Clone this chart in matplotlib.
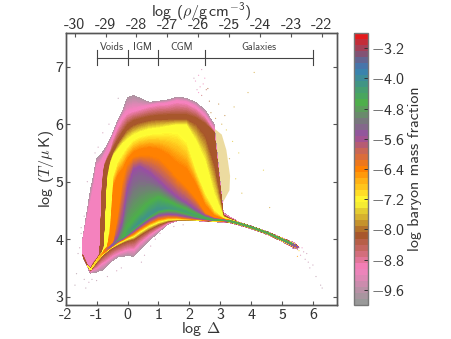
#!/bin/env python3
import matplotlib
matplotlib.use("Agg")
import matplotlib.pyplot as plt
import numpy as np
from matplotlib.colors import LinearSegmentedColormap

plt.rcParams["font.family"] = "cmss10"
plt.rcParams["axes.unicode_minus"] = False
plt.rcParams["axes.formatter.use_mathtext"] = True
plt.rcParams["mathtext.fontset"] = "custom"
plt.rcParams["mathtext.rm"] = "cmss10"
plt.rcParams["mathtext.it"] = "cmmi10"
plt.rcParams["mathtext.cal"] = "cmsy10"
plt.rcParams["mathtext.bf"] = "cmb10"
plt.rcParams["mathtext.tt"] = "cmtt10"

TEXT = "#333333"
EDGE = "#555555"

# columns of log Delta, every row below is log T of one colour contour in that column
delta = [-1.45, -1.3, -1.2, -1.1, -1.0, -0.9, -0.82, -0.75, -0.65, -0.55, -0.45, -0.3, -0.15, 0, 0.2, 0.4,
         0.7, 1.0, 1.3, 1.6, 1.9, 2.2, 2.5, 2.8, 3.1, 3.3, 3.6, 4.0, 4.5, 5.0, 5.4, 5.55]

edge_lo = [3.70, 3.52, 3.41, 3.42, 3.43, 3.45, 3.46, 3.49, 3.55, 3.60, 3.64, 3.70, 3.70, 3.72, 3.70, 3.82,
           3.98, 4.12, 4.26, 4.32, 4.32, 4.32, 4.31, 4.30, 4.295, 4.285, 4.245, 4.18, 4.085, 3.96, 3.84, 3.85]
pink_lo = [3.72, 3.54, 3.44, 3.48, 3.50, 3.55, 3.58, 3.60, 3.64, 3.68, 3.72, 3.76, 3.79, 3.82, 3.82, 3.94,
           4.07, 4.18, 4.28, 4.325, 4.325, 4.325, 4.315, 4.305, 4.30, 4.29, 4.25, 4.185, 4.09, 3.965, 3.85, 3.85]
brown_lo = [3.72, 3.54, 3.46, 3.53, 3.60, 3.66, 3.71, 3.745, 3.79, 3.83, 3.86, 3.90, 3.94, 3.97, 4.00, 4.07,
            4.17, 4.25, 4.31, 4.33, 4.33, 4.33, 4.32, 4.31, 4.305, 4.295, 4.255, 4.19, 4.095, 3.97, 3.86, 3.85]
yellow_lo = [3.72, 3.54, 3.465, 3.54, 3.62, 3.675, 3.725, 3.76, 3.80, 3.845, 3.88, 3.93, 3.97, 4.01, 4.05, 4.13,
             4.23, 4.30, 4.34, 4.345, 4.34, 4.335, 4.325, 4.315, 4.31, 4.30, 4.26, 4.195, 4.10, 3.975, 3.865, 3.85]
orange_lo = [3.72, 3.54, 3.47, 3.545, 3.625, 3.685, 3.73, 3.77, 3.815, 3.855, 3.895, 3.95, 3.99, 4.04, 4.10, 4.18,
             4.28, 4.35, 4.38, 4.38, 4.36, 4.345, 4.33, 4.32, 4.315, 4.305, 4.265, 4.20, 4.105, 3.98, 3.87, 3.85]
purple_lo = [3.72, 3.54, 3.47, 3.55, 3.63, 3.69, 3.735, 3.775, 3.825, 3.865, 3.905, 3.97, 4.01, 4.07, 4.15, 4.23,
             4.34, 4.42, 4.44, 4.43, 4.40, 4.37, 4.345, 4.325, 4.32, 4.31, 4.27, 4.205, 4.11, 3.985, 3.875, 3.85]
ridge = [3.72, 3.54, 3.47, 3.55, 3.63, 3.70, 3.74, 3.78, 3.83, 3.87, 3.91, 3.98, 4.03, 4.10, 4.20, 4.29,
         4.42, 4.52, 4.54, 4.52, 4.47, 4.41, 4.36, 4.335, 4.325, 4.315, 4.275, 4.21, 4.115, 3.995, 3.90, 3.86]
green_hi = [3.72, 3.54, 3.47, 3.55, 3.63, 3.705, 3.745, 3.785, 3.835, 3.875, 3.915, 3.99, 4.06, 4.20, 4.32, 4.45,
            4.62, 4.72, 4.66, 4.58, 4.52, 4.44, 4.375, 4.34, 4.33, 4.32, 4.28, 4.212, 4.118, 4.002, 3.905, 3.86]
purple_hi = [3.72, 3.54, 3.47, 3.55, 3.63, 3.71, 3.75, 3.79, 3.84, 3.88, 3.925, 4.02, 4.30, 4.85, 5.20, 5.25,
             5.15, 5.00, 4.85, 4.72, 4.62, 4.50, 4.40, 4.35, 4.335, 4.322, 4.283, 4.214, 4.12, 4.005, 3.91, 3.86]
orange_in = [3.72, 3.54, 3.47, 3.55, 3.63, 3.71, 3.75, 3.795, 3.845, 3.89, 3.94, 4.40, 5.00, 5.30, 5.42, 5.45,
             5.45, 5.40, 5.25, 5.05, 4.90, 4.70, 4.45, 4.37, 4.34, 4.325, 4.285, 4.216, 4.122, 4.008, 3.912, 3.86]
orange_hi = [3.72, 3.54, 3.47, 3.55, 3.63, 3.71, 3.75, 3.80, 3.86, 4.10, 4.90, 5.10, 5.20, 5.37, 5.50, 5.55,
             5.58, 5.55, 5.45, 5.30, 5.20, 4.95, 4.58, 4.40, 4.35, 4.33, 4.287, 4.218, 4.124, 4.01, 3.914, 3.86]
yellow_in = [3.72, 3.54, 3.47, 3.55, 3.63, 3.71, 3.755, 3.82, 3.88, 4.30, 5.10, 5.35, 5.48, 5.60, 5.72, 5.78,
             5.82, 5.84, 5.86, 5.85, 5.70, 5.20, 4.80, 4.50, 4.36, 4.335, 4.289, 4.22, 4.126, 4.012, 3.916, 3.86]
yellow_hi = [3.72, 3.54, 3.47, 3.55, 3.63, 3.71, 3.76, 3.85, 5.00, 5.30, 5.45, 5.55, 5.65, 5.72, 5.80, 5.85,
             5.90, 5.92, 5.95, 5.98, 5.98, 5.70, 5.35, 4.75, 4.38, 4.34, 4.29, 4.222, 4.128, 4.014, 3.918, 3.86]
brown_in = [3.72, 3.54, 3.48, 3.56, 3.64, 3.72, 3.78, 3.90, 5.10, 5.36, 5.50, 5.66, 5.78, 5.90, 5.98, 6.02,
            6.06, 6.08, 6.08, 6.08, 6.08, 6.00, 5.80, 5.30, 4.40, 4.35, 4.292, 4.224, 4.13, 4.016, 3.92, 3.86]
brown_hi = [3.72, 3.54, 3.49, 3.57, 3.65, 3.73, 4.90, 5.25, 5.38, 5.48, 5.58, 5.72, 5.85, 5.97, 6.05, 6.08,
            6.12, 6.14, 6.15, 6.15, 6.15, 6.10, 6.00, 5.85, 4.42, 4.36, 4.294, 4.226, 4.132, 4.018, 3.922, 3.86]
pink_in = [3.74, 3.56, 3.50, 3.60, 3.66, 3.75, 5.00, 5.30, 5.44, 5.55, 5.74, 5.94, 6.08, 6.18, 6.22, 6.25,
           6.30, 6.33, 6.34, 6.38, 6.36, 6.28, 6.13, 5.88, 4.43, 4.37, 4.296, 4.228, 4.134, 4.02, 3.925, 3.86]
pink_hi = [3.97, 4.35, 4.60, 4.85, 5.25, 5.30, 5.36, 5.44, 5.55, 5.67, 5.80, 5.98, 6.12, 6.22, 6.25, 6.28,
           6.32, 6.35, 6.36, 6.40, 6.38, 6.30, 6.15, 5.90, 4.44, 4.38, 4.298, 4.23, 4.136, 4.022, 3.93, 3.86]
edge_hi = [4.00, 4.50, 4.85, 5.10, 5.40, 5.45, 5.50, 5.55, 5.65, 5.75, 5.88, 6.08, 6.24, 6.46, 6.50, 6.45,
           6.38, 6.40, 6.42, 6.47, 6.45, 6.38, 6.25, 6.00, 4.46, 4.39, 4.30, 4.232, 4.138, 4.025, 3.935, 3.86]

# log mass fraction on each contour, and on the ridge of each column
level_lo = [-9.8, -9.1, -8.2, -7.3, -6.4, -5.5]
level_hi = [-4.6, -5.5, -6.4, -6.4, -7.3, -7.3, -8.2, -8.2, -9.1, -9.1, -9.8]
ridge_level = [-7.3, -7.3, -7.3, -7.0, -7.0, -6.8, -6.6, -6.4, -6.0, -5.6, -5.3, -5.0, -4.7, -4.4, -4.2, -4.1,
               -4.1, -4.1, -4.2, -4.3, -4.3, -4.4, -4.5, -4.5, -4.5, -4.5, -4.4, -4.5, -4.5, -4.6, -5.3, -5.6]

# thin green tail of the ridge at high density
tail_x = [3.3, 3.6, 4.0, 4.5, 5.0, 5.3]
tail_y = [4.315, 4.275, 4.21, 4.115, 3.995, 3.925]
tail_level = -4.7

# grainy yellow-brown lobe on the right of the main cloud
lobe_x = [2.75, 3.05, 3.2, 3.32, 3.3, 3.1, 2.95, 2.75]
lobe_y = [5.95, 5.82, 5.55, 5.1, 4.85, 4.65, 4.52, 4.48]
lobe_level = -7.7

# stray pixels: log Delta, log T, log mass fraction
stray_x = [2.2, 2.3, 2.35, 2.4, 2.45, 2.5, 2.55, 2.3, 2.25, 2.6, 2.65, 2.4, 2.15, 2.7, 2.85, 2.95, 3.05, 3.2, 3.4,
           3.6, 3.9, 4.1, 4.4, 3.3, 3.5, 3.7, 4.6, 3.15, 3.45, 5.45, 5.55, 5.6, 5.7, 5.75, 5.85, 5.9, 6.0, 6.1,
           6.25, 6.3, 5.5, 5.65, 5.8, -1.55, -1.6, -1.5, -1.65, -1.7, -1.4, -1.35, -1.25, -1.4, -1.5, -1.3, -1.05,
           -0.95, -0.8, -0.6, -0.3, -1.15, -1.0, -0.65, -0.35, -0.2, 0.45, 0.55, 0.75, 0.9, 1.05, 1.5, 1.8,
           5.4, 5.45, 5.5, 5.35, 5.55]
stray_y = [6.75, 6.85, 6.65, 6.95, 6.7, 6.8, 6.6, 6.55, 6.6, 6.62, 6.4, 6.5, 6.8, 6.2, 6.1, 6.35, 6.0, 5.9, 5.7,
           5.5, 6.55, 6.9, 5.2, 5.4, 5.05, 4.8, 4.55, 6.15, 6.3, 3.88, 3.8, 3.72, 3.78, 3.65, 3.6, 3.5, 3.55, 3.35,
           3.2, 3.15, 3.7, 3.85, 3.75, 3.85, 3.75, 4.2, 3.4, 3.2, 3.3, 3.15, 3.25, 4.4, 4.1, 5.0, 5.5,
           5.6, 5.85, 6.0, 6.45, 3.3, 3.28, 3.35, 3.45, 3.5, 3.6, 3.72, 3.88, 4.0, 4.1, 4.22, 4.25,
           3.86, 3.84, 3.82, 3.84, 3.85]
stray_level = [-9.2, -9.2, -9.0, -9.4, -9.0, -9.2, -8.4, -9.1, -9.4, -8.2, -8.2, -8.6, -9.6, -8.0, -7.9, -8.0, -7.8,
               -7.6, -7.6, -7.6, -7.8, -7.8, -7.6, -7.8, -7.6, -7.7, -7.8, -8.0, -7.8, -5.8, -7.0, -9.4, -9.5, -9.6,
               -9.6, -9.6, -9.6, -9.7, -9.7, -9.7, -6.6, -9.2, -9.6, -9.6, -9.7, -9.6, -9.8, -9.8, -9.7, -9.7, -9.6,
               -9.7, -9.7, -9.6, -9.6, -9.6, -9.5, -9.6, -9.7, -9.7, -9.7, -9.6, -9.5, -9.6, -9.6, -9.6, -9.5, -9.5,
               -9.5, -9.5, -9.6, -5.6, -5.8, -5.9, -5.6, -6.0]

# region brackets on top of the plot
bracket_edges = [-1, 0, 1, 2.5, 6]
region_names = ["Voids", "IGM", "CGM", "Galaxies"]

x_ticks = [-2, -1, 0, 1, 2, 3, 4, 5, 6]
y_ticks = [3, 4, 5, 6, 7]
rho_ticks = [-30, -29, -28, -27, -26, -25, -24, -23, -22]
cbar_ticks = [-3.2, -4.0, -4.8, -5.6, -6.4, -7.2, -8.0, -8.8, -9.6]

set1 = plt.get_cmap("Set1").colors[::-1]
cmap = LinearSegmentedColormap.from_list("set1_smooth", set1, N=256)
norm = plt.Normalize(-10.0, -2.8)

rows = [edge_lo, pink_lo, brown_lo, yellow_lo, orange_lo, purple_lo, ridge, green_hi, purple_hi, orange_in,
        orange_hi, yellow_in, yellow_hi, brown_in, brown_hi, pink_in, pink_hi, edge_hi]
Y = np.maximum.accumulate(np.array(rows), axis=0)
X = np.tile(delta, (len(rows), 1))
Z = np.array([level_lo[i] * np.ones(len(delta)) for i in range(len(level_lo))]
             + [ridge_level]
             + [level_hi[i] * np.ones(len(delta)) for i in range(len(level_hi))])
Z = np.minimum(Z, ridge_level)

W, H = 452.0, 339.0
fig = plt.figure(figsize=(4.52, 3.39), dpi=100)
ax = fig.add_axes([65.7 / W, 1 - 305 / H, 271 / W, 272 / H])
cax = fig.add_axes([354.3 / W, 1 - 305 / H, 13.7 / W, 272 / H])

ax.fill(lobe_x, lobe_y, color=cmap(norm(lobe_level)), alpha=0.45, lw=0)
ax.contourf(X, Y, Z, levels=np.linspace(-10.0, -2.8, 145), cmap=cmap, norm=norm)
ax.plot(tail_x, tail_y, color=cmap(norm(tail_level)), lw=1.7, solid_capstyle="round")
ax.scatter(stray_x, stray_y, c=stray_level, cmap=cmap, norm=norm, s=0.8, lw=0, alpha=0.7)

ax.set_xlim(-2, 6.77)
ax.set_ylim(2.855, 7.586)
ax.set_xticks(x_ticks, [str(t) for t in x_ticks])
ax.set_yticks(y_ticks, [str(t) for t in y_ticks])
ax.tick_params(direction="in", length=3, width=0.8, color=EDGE, labelcolor=TEXT, labelsize=11.5,
               right=True, pad=2)
ax.tick_params(axis="y", pad=1.5)
ax.set_xlabel(r"log $\Delta$", color=TEXT, fontsize=11.5, labelpad=-1)
ax.set_ylabel(r"log $(T/\mu\,\mathrm{K})$", color=TEXT, fontsize=11.5, labelpad=0)

top = ax.twiny()
top.set_xlim(-2 - 28.29, 6.77 - 28.29)
top.set_xticks(rho_ticks, [str(t) for t in rho_ticks])
top.tick_params(direction="in", length=3, width=0.8, color=EDGE, labelcolor=TEXT, labelsize=11.5, pad=0.5)
top.set_xlabel(r"log $(\rho/\mathrm{g\,cm^{-3}})$", color=TEXT, fontsize=11.5, labelpad=1.5)

for a in (ax, top):
    for s in a.spines.values():
        s.set_color(EDGE)
        s.set_linewidth(1.0)

ax.plot([bracket_edges[0], bracket_edges[-1]], [7.156, 7.156], color="#444444", lw=0.8)
for b in bracket_edges:
    ax.plot([b, b], [7.03, 7.29], color="#444444", lw=0.8)
for name, a, b in zip(region_names, bracket_edges[:-1], bracket_edges[1:]):
    ax.text((a + b) / 2, 7.26, name, ha="center", va="bottom", fontsize=7.5, color="#444444")

bar = plt.cm.ScalarMappable(norm=matplotlib.colors.BoundaryNorm(np.linspace(-10.0, -2.8, 46), 256), cmap=cmap)
cb = fig.colorbar(bar, cax=cax, spacing="proportional")
cb.set_ticks(cbar_ticks, labels=[f"$-${abs(t):.1f}" for t in cbar_ticks])
cb.ax.minorticks_off()
cb.ax.tick_params(direction="in", length=3, width=0.7, color="#333333", labelcolor=TEXT, labelsize=11.5, pad=2)
cb.outline.set_edgecolor("#777777")
cb.outline.set_linewidth(1.0)
cb.set_label("log baryon mass fraction", color=TEXT, fontsize=11.5, labelpad=2)

fig.savefig("out.png", dpi=100)
